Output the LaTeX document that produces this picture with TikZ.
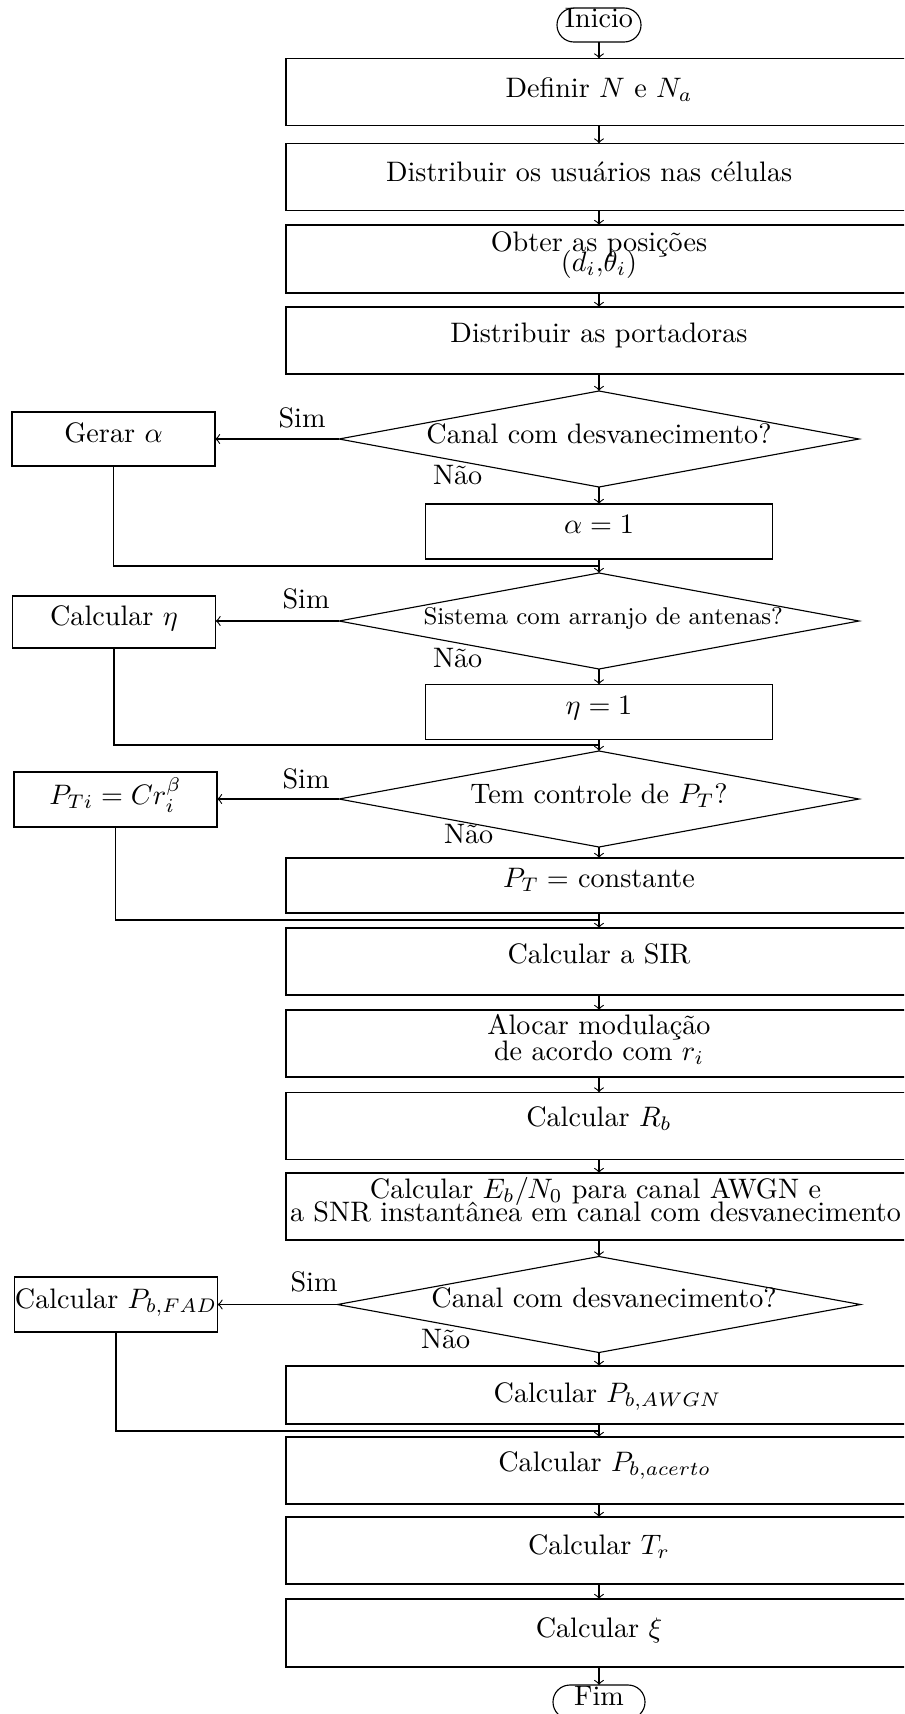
\documentclass[tikz,border=0pt]{standalone}
\usetikzlibrary{shapes.geometric}
\newcommand{\pxu}{0.355pt}
\newcommand{\ctext}[1]{\makebox[0pt]{#1}}
\newcommand{\twolines}[3]{\makebox[0pt]{\begin{tabular}[t]{@{}c@{}}#1\\[#3]#2\end{tabular}}}
\begin{document}
\begin{tikzpicture}[x=\pxu, y=-\pxu]
\tikzset{
  every node/.append style={inner sep=0pt, outer sep=0pt},
  wide/.style={draw, rectangle, minimum width=626*\pxu, minimum height=67*\pxu},
  mid/.style={draw, rectangle, minimum width=347*\pxu, minimum height=55*\pxu},
  side/.style={draw, rectangle, minimum width=203*\pxu, minimum height=54*\pxu},
  term/.style={draw, rectangle, rounded corners=6pt, minimum height=34*\pxu},
  decision/.style={draw, diamond, minimum width=520*\pxu, minimum height=96*\pxu},
  low/.style={text height=#1, text depth=0pt},
  high/.style={text height=0pt, text depth=#1},
  yes/.style={anchor=base},
  no/.style={anchor=base west},
  flow/.style={->},
  merge/.style={-}
}
\useasboundingbox (0,0) rectangle (904,1714);
\clip (0,0) rectangle (904,1714);

% main column
\node[term, minimum width=84*\pxu, low=1.5pt] (ini) at (599,25) {\ctext{Inicio}};
\node[wide, low=3.6pt] (b1) at (599,92) {\ctext{Definir $N$ e $N_a$}};
\node[wide, low=3pt] (b2) at (599,177) {\ctext{Distribuir os usuários nas células\hspace*{7pt}}};
\node[wide, minimum height=68*\pxu, high=5.2pt] (b3) at (599,259)
  {\twolines{Obter as posições}{$(d_i{,}\theta_i)$}{-5pt}};
\node[wide, low=1.5pt] (b4) at (599,340.5) {\ctext{Distribuir as portadoras}};

\node[decision, low=2.9pt] (d1) at (599,439) {\ctext{Canal com desvanecimento?}};
\node[side, low=2.2pt] (g1) at (113.5,439) {\ctext{Gerar $\alpha$}};
\node[mid, low=1.5pt] (a1) at (599,531.5) {\ctext{$\alpha=1$}};
\coordinate (m1) at (599,566);

\node[decision, low=2.2pt] (d2) at (599,621)
  {\ctext{\hspace*{3pt}\fontsize{8.6}{10}\selectfont Sistema com arranjo de antenas?}};
\node[side, minimum height=52*\pxu, low=2.2pt] (eta) at (114,622) {\ctext{Calcular $\eta$}};
\node[mid, low=1.5pt] (e1) at (599,712) {\ctext{$\eta=1$}};
\coordinate (m2) at (599,745);

\node[decision, low=3pt] (d3) at (599,799) {\ctext{Tem controle de $P_T$?}};
\node[side, minimum height=55*\pxu, low=3.6pt] (pti) at (115.5,799.5) {\ctext{$P_{Ti}=Cr_i^{\beta}$}};
\node[wide, minimum height=55*\pxu, low=1.1pt] (pc) at (599,885.5) {\ctext{$P_T=$ constante}};
\coordinate (m3) at (599,920);

\node[wide, low=1.5pt] (sir) at (599,961.5) {\ctext{Calcular a SIR}};
\node[wide, high=6.2pt] (aloc) at (599,1043.5)
  {\twolines{Alocar modulação}{de acordo com $r_i$}{-2.9pt}};
\node[wide, low=0.3pt] (rb) at (599,1126) {\ctext{Calcular $R_b$}};
\node[wide, high=5.5pt] (eb) at (599,1206.5)
  {\twolines{Calcular $E_b/N_0$ para canal AWGN e}{a SNR instantânea em canal com desvanecimento}{-4pt}\hspace*{2.5pt}};

\node[decision, minimum width=523*\pxu, low=2.2pt] (d4) at (599,1304.5)
  {\ctext{\hspace*{3.6pt}Canal com desvanecimento?}};
\node[side, minimum height=55*\pxu, low=2.5pt] (fad) at (116,1304.5) {\ctext{Calcular $P_{b,FAD}$}};
\node[wide, minimum height=58*\pxu, low=5pt] (awgn) at (599,1395) {\ctext{\hspace*{6pt}Calcular $P_{b,AWGN}$}};
\coordinate (m4) at (599,1431);

\node[wide, low=0.5pt] (acerto) at (599,1470.5) {\ctext{\hspace*{4pt}Calcular $P_{b,acerto}$}};
\node[wide, low=2.5pt] (tr) at (599,1550.5) {\ctext{Calcular $T_r$}};
\node[wide, minimum height=68*\pxu, low=2.9pt] (xi) at (599,1633) {\ctext{Calcular $\xi$}};
\node[term, minimum width=92*\pxu, low=2.2pt] (fim) at (599,1702) {\ctext{Fim}};

% branch labels
\node[yes] (s1) at (302,427) {Sim};
\node[no]  (n1) at (433,484) {Não};
\node[yes] (s2) at (306,608) {Sim};
\node[no]  (n2) at (433,667) {Não};
\node[yes] (s3) at (306,788) {Sim};
\node[no]  (n3) at (444,843) {Não};
\node[yes] (s4) at (314,1291) {Sim};
\node[no]  (n4) at (421,1348) {Não};

% connectors
\draw[flow] (ini) -- (b1);
\draw[flow] (b1) -- (b2);
\draw[flow] (b2) -- (b3);
\draw[flow] (b3) -- (b4);
\draw[flow] (b4) -- (d1);
\draw[flow] (d1.west) -- (g1.east);
\draw[flow] (d1) -- (a1);
\draw[flow] (a1) -- (d2);
\draw[merge] (g1.south) |- (m1);
\draw[flow] (d2.west) -- (d2.west -| eta.east);
\draw[flow] (d2) -- (e1);
\draw[flow] (e1) -- (d3);
\draw[merge] (eta.south) |- (m2);
\draw[flow] (d3.west) -- (d3.west -| pti.east);
\draw[flow] (d3) -- (pc);
\draw[flow] (pc) -- (sir);
\draw[merge] (pti.south) |- (m3);
\draw[flow] (sir) -- (aloc);
\draw[flow] (aloc) -- (rb);
\draw[flow] (rb) -- (eb);
\draw[flow] (eb) -- (d4);
\draw[flow] (d4.west) -- (fad.east);
\draw[flow] (d4) -- (awgn);
\draw[flow] (awgn) -- (acerto);
\draw[merge] (fad.south) |- (m4);
\draw[flow] (acerto) -- (tr);
\draw[flow] (tr) -- (xi);
\draw[flow] (xi) -- (fim);
\end{tikzpicture}
\end{document}
